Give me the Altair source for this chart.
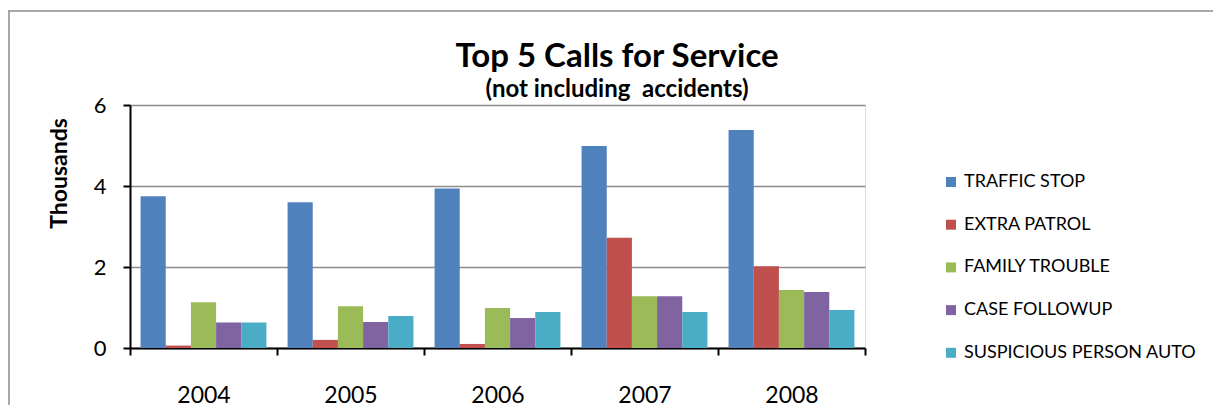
import altair as alt
import pandas as pd

years = ["2004", "2005", "2006", "2007", "2008"]
series = ["TRAFFIC STOP", "EXTRA PATROL", "FAMILY TROUBLE", "CASE FOLLOWUP", "SUSPICIOUS PERSON AUTO"]
traffic_stop = [3.75, 3.60, 3.94, 4.99, 5.38]
extra_patrol = [0.06, 0.20, 0.10, 2.72, 2.02]
family_trouble = [1.13, 1.03, 0.99, 1.28, 1.43]
case_followup = [0.63, 0.64, 0.74, 1.28, 1.38]
suspicious_auto = [0.63, 0.79, 0.89, 0.89, 0.94]
colors = ["#4F81BD", "#C0504D", "#9BBB59", "#8064A2", "#4BACC6"]
title_text = "Top 5 Calls for Service"
subtitle_text = "(not including\u00a0 accidents)"

values = [traffic_stop, extra_patrol, family_trouble, case_followup, suspicious_auto]
rows = []
for s, vals in zip(series, values):
    for y, v in zip(years, vals):
        rows.append({"year": y, "series": s, "value": v})
df = pd.DataFrame(rows)

FONT = "Lato"

bars = alt.Chart(df).mark_bar(stroke=None).encode(
    x=alt.X("year:N", sort=years,
            scale=alt.Scale(paddingInner=0, paddingOuter=0),
            axis=alt.Axis(title=None, labelAngle=0, labelFontSize=23, labelColor="#000000",
                          labelFont=FONT, domainColor="#000000", domainWidth=2,
                          tickColor="#000000", tickWidth=2, tickSize=7, tickBand="extent",
                          labelPadding=29, grid=False)),
    xOffset=alt.XOffset("series:N", sort=series, scale=alt.Scale(paddingOuter=0.42, paddingInner=0)),
    y=alt.Y("value:Q", scale=alt.Scale(domain=[0, 6], nice=False),
            axis=alt.Axis(values=[0, 2, 4, 6], title="Thousands", titleFontSize=23,
                          titleFont=FONT, titleFontWeight="bold", titleColor="#000000",
                          titleAngle=-90, titleX=-71, titleY=68, titleBaseline="middle",
                          labelFontSize=22, labelFont=FONT, labelColor="#000000",
                          labelPadding=17, domainColor="#000000", domainWidth=2,
                          tickColor="#000000", tickWidth=2, tickSize=7,
                          grid=True, gridColor="#8c8c8c", gridWidth=1.5)),
    color=alt.Color("series:N", sort=series,
                    scale=alt.Scale(domain=series, range=colors),
                    legend=alt.Legend(title=None, orient="none", legendX=812, legendY=68,
                                      symbolType="square", symbolSize=100,
                                      symbolStrokeWidth=0, labelFontSize=18, labelFont=FONT,
                                      labelColor="#000000", labelOffset=4, rowPadding=24.7,
                                      labelLimit=0)),
)

title_df = pd.DataFrame({"t": [title_text]})
subtitle_df = pd.DataFrame({"t": [subtitle_text]})
title_mark = alt.Chart(title_df).mark_text(font=FONT, fontSize=33, fontWeight="bold",
                                           color="#000000", baseline="alphabetic", align="center").encode(
    text="t:N", x=alt.value(487), y=alt.value(-38)
)
subtitle_mark = alt.Chart(subtitle_df).mark_text(font=FONT, fontSize=24, fontWeight="bold",
                                                 color="#000000", baseline="alphabetic", align="center").encode(
    text="t:N", x=alt.value(487), y=alt.value(-8)
)

top_border = alt.Chart(title_df).mark_rule(color="#8c8c8c", strokeWidth=1.5).encode(
    x=alt.value(-122), x2=alt.value(1083), y=alt.value(-94)
)
left_border = alt.Chart(title_df).mark_rule(color="#8c8c8c", strokeWidth=1.5).encode(
    x=alt.value(-121), y=alt.value(-94), y2=alt.value(300)
)

chart = alt.layer(top_border, left_border, bars, title_mark, subtitle_mark).properties(
    width=735,
    height=243,
    padding={"left": 122, "top": 97, "right": 348, "bottom": 60},
    autosize=alt.AutoSizeParams(type="none"),
).configure_view(stroke=None).configure(background="white")

chart.save("out.html", embed_options={"renderer": "svg", "actions": False})
